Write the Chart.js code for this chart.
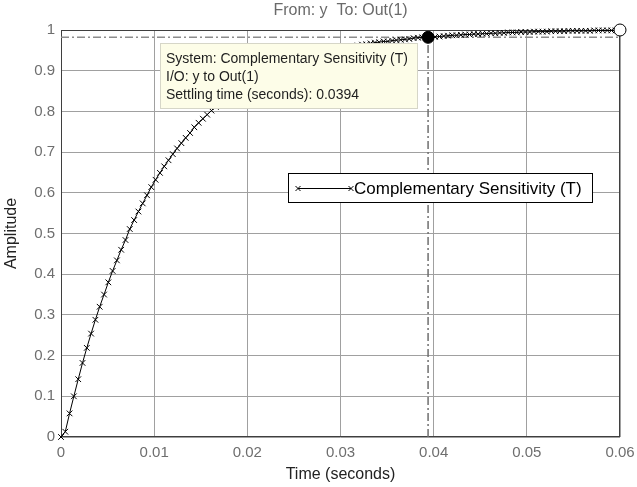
<!DOCTYPE html>
<html>
<head>
<meta charset="utf-8">
<script src="https://cdn.jsdelivr.net/npm/chart.js@4.4.1/dist/chart.umd.min.js"></script>
<style>
  html, body { margin: 0; padding: 0; background: #ffffff; }
  #wrap { width: 637px; height: 487px; }
</style>
</head>
<body>
<div id="wrap"><canvas id="c" width="637" height="487"></canvas></div>
<script>
// ---------------- data ----------------
const times = [
  0, 0.00046, 0.00092, 0.00138, 0.00185, 0.00231, 0.00277, 0.00323, 0.00369, 0.00415,
  0.00462, 0.00508, 0.00554, 0.00600, 0.00646, 0.00692, 0.00738, 0.00785, 0.00831, 0.00877,
  0.00923, 0.00969, 0.01015, 0.01062, 0.01108, 0.01154, 0.01200, 0.01246, 0.01292, 0.01338,
  0.01385, 0.01431, 0.01477, 0.01523, 0.01569, 0.01615, 0.01662, 0.01708, 0.01754, 0.01800,
  0.01846, 0.01892, 0.01938, 0.01985, 0.02031, 0.02077, 0.02123, 0.02169, 0.02215, 0.02262,
  0.02308, 0.02354, 0.02400, 0.02446, 0.02492, 0.02538, 0.02585, 0.02631, 0.02677, 0.02723,
  0.02769, 0.02815, 0.02862, 0.02908, 0.02954, 0.03000, 0.03046, 0.03092, 0.03138, 0.03185,
  0.03231, 0.03277, 0.03323, 0.03369, 0.03415, 0.03462, 0.03508, 0.03554, 0.03600, 0.03646,
  0.03692, 0.03738, 0.03785, 0.03831, 0.03877, 0.03923, 0.03969, 0.04015, 0.04062, 0.04108,
  0.04154, 0.04200, 0.04246, 0.04292, 0.04338, 0.04385, 0.04431, 0.04477, 0.04523, 0.04569,
  0.04615, 0.04662, 0.04708, 0.04754, 0.04800, 0.04846, 0.04892, 0.04938, 0.04985, 0.05031,
  0.05077, 0.05123, 0.05169, 0.05215, 0.05262, 0.05308, 0.05354, 0.05400, 0.05446, 0.05492,
  0.05538, 0.05585, 0.05631, 0.05677, 0.05723, 0.05769, 0.05815, 0.05862, 0.05908, 0.05954,
  0.06000
];
const amplitude = [
  0, 0.013, 0.058, 0.100, 0.142, 0.182, 0.219, 0.254, 0.288, 0.320,
  0.350, 0.380, 0.408, 0.434, 0.460, 0.484, 0.511, 0.533, 0.554, 0.574,
  0.594, 0.614, 0.632, 0.649, 0.665, 0.680, 0.695, 0.709, 0.722, 0.735,
  0.747, 0.761, 0.772, 0.782, 0.792, 0.802, 0.811, 0.820, 0.829, 0.837,
  0.844, 0.852, 0.859, 0.865, 0.872, 0.878, 0.884, 0.889, 0.895, 0.900,
  0.904, 0.909, 0.914, 0.918, 0.922, 0.926, 0.929, 0.933, 0.936, 0.939,
  0.942, 0.944, 0.947, 0.950, 0.952, 0.955, 0.956, 0.958, 0.960, 0.962,
  0.964, 0.965, 0.967, 0.969, 0.970, 0.972, 0.972, 0.974, 0.975, 0.976,
  0.977, 0.978, 0.980, 0.981, 0.982, 0.983, 0.983, 0.983, 0.984, 0.985,
  0.986, 0.987, 0.987, 0.988, 0.989, 0.989, 0.990, 0.990, 0.991, 0.991,
  0.992, 0.992, 0.993, 0.993, 0.994, 0.994, 0.994, 0.995, 0.995, 0.995,
  0.996, 0.996, 0.996, 0.996, 0.997, 0.997, 0.997, 0.997, 0.998, 0.998,
  0.998, 0.998, 0.998, 0.998, 0.999, 0.999, 0.999, 0.999, 0.999, 0.999,
  0.999
];
const xTickValues = [0, 0.01, 0.02, 0.03, 0.04, 0.05, 0.06];
const xTickLabels = ['0', '0.01', '0.02', '0.03', '0.04', '0.05', '0.06'];
const yTickValues = [0, 0.1, 0.2, 0.3, 0.4, 0.5, 0.6, 0.7, 0.8, 0.9, 1];
const yTickLabels = ['0', '0.1', '0.2', '0.3', '0.4', '0.5', '0.6', '0.7', '0.8', '0.9', '1'];
const seriesLabel = 'Complementary Sensitivity (T)';
const settlingTime = [0.0394];
const settlingLevel = [0.982];
const finalTime = [0.06];
const finalValue = [1];
const chartTitle = 'From: y  To: Out(1)';
const xTitle = 'Time (seconds)';
const yTitle = 'Amplitude';
const tipLines = ['System: Complementary Sensitivity (T)', 'I/O: y to Out(1)', 'Settling time (seconds): 0.0394'];

// ---------------- chart ----------------
const FONT = '"Liberation Sans", Arial, Helvetica, sans-serif';

const curveData = times.map((t, i) => ({ x: t, y: amplitude[i] }));
const settleDot = settlingTime.map((t, i) => ({ x: t, y: settlingLevel[i] }));
const finalDot = finalTime.map((t, i) => ({ x: t, y: finalValue[i] }));
const hLine = [{ x: xTickValues[0], y: settlingLevel[0] }, { x: xTickValues[xTickValues.length - 1], y: settlingLevel[0] }];
const vLine = [{ x: settlingTime[0], y: yTickValues[0] }, { x: settlingTime[0], y: settlingLevel[0] }];

const framePlugin = {
  id: 'frame',
  beforeDatasetsDraw(chart) {
    const { ctx, chartArea: a } = chart;
    ctx.save();
    ctx.strokeStyle = '#3f3f3f';
    ctx.lineWidth = 1;
    ctx.strokeRect(a.left + 0.5, a.top + 0.5, a.right - a.left - 1, a.bottom - a.top - 1);
    ctx.restore();
  }
};

const overlayPlugin = {
  id: 'overlay',
  afterDatasetsDraw(chart) {
    const { ctx, chartArea: a } = chart;
    ctx.save();
    // data tip box
    const bx = a.left + 99, by = a.top + 13, bw = 258, bh = 66;
    ctx.fillStyle = '#fdfde8';
    ctx.fillRect(bx, by, bw, bh);
    ctx.strokeStyle = '#d6d6c8';
    ctx.lineWidth = 1;
    ctx.strokeRect(bx + 0.5, by + 0.5, bw - 1, bh - 1);
    ctx.fillStyle = '#1e1e1e';
    ctx.font = '14px ' + FONT;
    ctx.textBaseline = 'middle';
    ctx.textAlign = 'left';
    tipLines.forEach((s, i) => ctx.fillText(s, bx + 6, by + 16 + i * 18));

    // legend
    const lx = a.right - 332, ly = a.top + 143, lw = 305, lh = 30;
    ctx.fillStyle = '#ffffff';
    ctx.fillRect(lx, ly, lw, lh);
    ctx.strokeStyle = '#000000';
    ctx.lineWidth = 1;
    ctx.strokeRect(lx + 0.5, ly + 0.5, lw - 1, lh - 1);
    const cy = ly + lh / 2;
    const x1 = lx + 10, x2 = lx + 63;
    ctx.beginPath();
    ctx.moveTo(x1, cy + 0.5); ctx.lineTo(x2, cy + 0.5);
    [x1, x2].forEach(px => {
      ctx.moveTo(px - 2.5, cy - 2); ctx.lineTo(px + 2.5, cy + 3);
      ctx.moveTo(px + 2.5, cy - 2); ctx.lineTo(px - 2.5, cy + 3);
    });
    ctx.stroke();
    ctx.fillStyle = '#000000';
    ctx.font = '17px ' + FONT;
    ctx.fillText(seriesLabel, x2 + 3, cy + 1);
    ctx.restore();
  }
};

new Chart(document.getElementById('c'), {
  type: 'line',
  data: {
    datasets: [
      { label: 'settle', data: settleDot, showLine: false, pointRadius: 6, pointBackgroundColor: '#000', pointBorderColor: '#000', pointBorderWidth: 1, clip: false },
      { label: 'final', data: finalDot, showLine: false, pointRadius: 6, pointBackgroundColor: '#fff', pointBorderColor: '#000', pointBorderWidth: 1, clip: false },
      { label: seriesLabel, data: curveData, borderColor: '#000', borderWidth: 1, pointStyle: 'crossRot', pointRadius: 4, pointBorderColor: '#000', pointBorderWidth: 1, tension: 0, clip: false },
      { label: 'hband', data: hLine, borderColor: '#8c8c8c', borderWidth: 1.5, borderDash: [8, 3, 2, 3], pointRadius: 0 },
      { label: 'vband', data: vLine, borderColor: '#6f6f6f', borderWidth: 1.5, borderDash: [8, 3, 2, 3], pointRadius: 0 }
    ]
  },
  options: {
    responsive: false,
    animation: false,
    devicePixelRatio: 1,
    events: [],
    layout: { padding: { top: 0, right: 17, bottom: 0, left: 0 } },
    plugins: {
      legend: { display: false },
      tooltip: { enabled: false },
      title: {
        display: true, text: chartTitle, fullSize: false,
        color: '#6a6a6a', font: { family: FONT, size: 16, weight: 'normal' },
        padding: { top: 1, bottom: 9.8 }
      }
    },
    scales: {
      x: {
        type: 'linear', min: 0, max: 0.06,
        afterBuildTicks: s => { s.ticks = xTickValues.map(v => ({ value: v })); },
        afterFit: s => { s.height = 50; s.paddingLeft = 0; s.paddingRight = 0; },
        ticks: { callback: (v, i) => xTickLabels[i], color: '#6e6e6e', font: { family: FONT, size: 15 }, padding: 7, maxRotation: 0, autoSkip: false },
        grid: { color: '#a0a0a0', borderDash: [3, 2], drawTicks: false, lineWidth: 1 },
        border: { display: false },
        title: { display: true, text: xTitle, color: '#222', font: { family: FONT, size: 16 }, padding: { top: 0, bottom: 2.4 } }
      },
      y: {
        type: 'linear', min: 0, max: 1,
        afterBuildTicks: s => { s.ticks = yTickValues.map(v => ({ value: v })); },
        afterFit: s => { s.width = 61; s.paddingTop = 0; s.paddingBottom = 0; },
        ticks: { callback: (v, i) => yTickLabels[i], color: '#6e6e6e', font: { family: FONT, size: 15 }, padding: 6, autoSkip: false },
        grid: { color: '#a0a0a0', borderDash: [3, 2], drawTicks: false, lineWidth: 1 },
        border: { display: false },
        title: { display: true, text: yTitle, color: '#222', font: { family: FONT, size: 16 }, padding: { top: 2, bottom: 0 } }
      }
    }
  },
  plugins: [framePlugin, overlayPlugin]
});
</script>
</body>
</html>
